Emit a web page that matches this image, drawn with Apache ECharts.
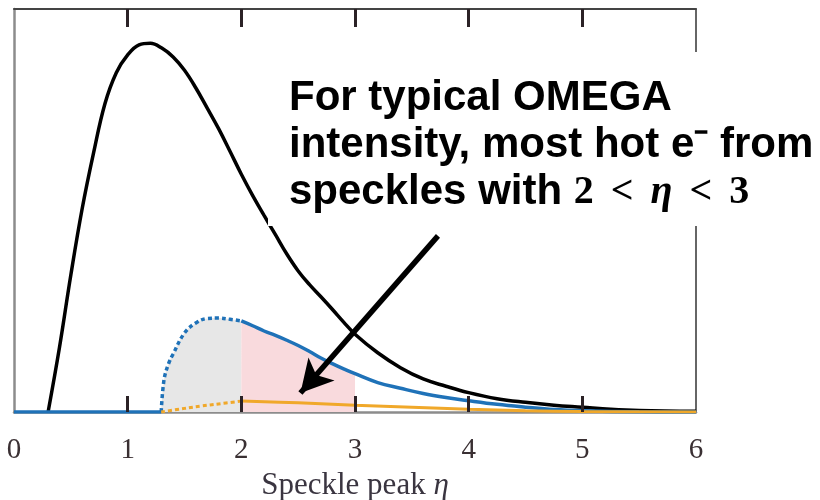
<!DOCTYPE html>
<html>
<head>
<meta charset="utf-8">
<script src="https://cdn.jsdelivr.net/npm/echarts@6/dist/echarts.min.js"></script>
<style>html,body{margin:0;padding:0;background:#fff;}#c{width:820px;height:500px;}</style>
</head>
<body>
<div id="c"></div>
<script>
// x ticks
const xTicks = [0, 1, 2, 3, 4, 5, 6];
const innerTicks = [1, 2, 3, 4, 5];
// black curve (speckle distribution)
const blackEta = [0.30,0.40,0.50,0.60,0.70,0.80,0.90,1.00,1.10,1.20,1.30,1.40,1.50,1.60,1.70,1.80,1.90,2.00,2.10,2.20,2.30,2.40,2.50,2.60,2.70,2.80,2.90,3.00,3.20,3.40,3.60,3.80,4.00,4.25,4.50,4.75,5.00,5.25,5.50,6.00];
const blackVal = [0,16,34,50.5,64.3,76.5,84.2,88.6,91.1,91.5,90.3,88.1,84.8,80.4,75.4,70.3,64.7,59.0,53.7,48.8,44.0,39.2,35.0,31.6,28.6,25.5,22.3,19.3,14.7,11.0,8.2,6.4,4.8,3.3,2.4,1.7,1.2,0.7,0.4,0.2];
// blue curve: baseline, dotted rise, solid fall
const blueBaseEta = [0, 1.295];
const blueBaseVal = [0, 0];
const blueDotEta = [1.295,1.32,1.36,1.40,1.50,1.60,1.70,1.80,1.90,2.00];
const blueDotVal = [0,8,12,14.4,19.6,22.1,23.2,23.3,23.0,22.6];
const blueSolidEta = [2.0,2.1,2.2,2.3,2.4,2.5,2.6,2.7,2.8,2.9,3.0,3.2,3.4,3.6,3.8,4.0,4.25,4.5,4.75,5.0,5.5,6.0];
const blueSolidVal = [22.6,21.4,20.1,19.0,17.8,16.5,15.0,13.4,12.0,10.7,9.5,7.3,5.9,4.6,3.6,2.8,1.9,1.2,0.6,0.3,0.05,0];
// orange curve
const orangeDotEta = [1.295,1.5,1.65,1.8,2.0];
const orangeDotVal = [0,0.9,1.5,2.0,2.7];
const orangeSolidEta = [2.0,2.5,3.0,3.5,4.0,4.5,5.0,6.0];
const orangeSolidVal = [2.7,2.3,1.7,1.2,0.7,0.3,0.1,0];
// arrow annotation (data units)
const arrowFrom = [3.73, 43.7];
const arrowTo = [2.52, 4.7];

const zip = (a, b) => a.map((v, i) => [v, b[i]]);
const black = zip(blackEta, blackVal);
const blueBase = zip(blueBaseEta, blueBaseVal);
const blueDot = zip(blueDotEta, blueDotVal);
const blueSolid = zip(blueSolidEta, blueSolidVal);
const pinkBand = blueSolid.filter(p => p[0] <= 3.0);
const orangeDot = zip(orangeDotEta, orangeDotVal);
const orangeSolid = zip(orangeSolidEta, orangeSolidVal);

const BLUE = '#1f72b8', ORANGE = '#f0a82a';
const line = (data, color, width, type, z, extra) => Object.assign({
  type: 'line', data, smooth: 0.4, showSymbol: false, symbol: 'none',
  lineStyle: { color, width, type: type || 'solid', cap: 'butt' }, z: z || 3, silent: true
}, extra || {});

const chart = echarts.init(document.getElementById('c'));
chart.setOption({
  animation: false,
  backgroundColor: '#fff',
  grid: { left: 14, right: 124, top: 9, bottom: 88, containLabel: false, outerBoundsMode: 'none' },
  xAxis: [
    { type: 'value', position: 'bottom', min: 0, max: 6, interval: 1,
      axisLine: { show: true, onZero: false, lineStyle: { color: '#8c8c8c', width: 2.5 } },
      axisTick: { show: false }, splitLine: { show: false },
      axisLabel: { margin: 24, fontFamily: 'Liberation Serif', fontSize: 29, color: '#3a3033' },
      name: '{n|Speckle peak }{i|η}', nameLocation: 'middle', nameGap: 57,
      nameTextStyle: { rich: {
        n: { fontFamily: 'Liberation Serif', fontSize: 31, color: '#3a3540' },
        i: { fontFamily: 'Liberation Serif', fontStyle: 'italic', fontSize: 31, color: '#3a3540' } } } },
    { type: 'value', position: 'top', min: 0, max: 6, interval: 1, z: 6,
      axisLine: { show: true, onZero: false, lineStyle: { color: '#444', width: 2 } },
      axisTick: { show: true, inside: true, length: 18, customValues: innerTicks, lineStyle: { color: '#2b2226', width: 3 } },
      axisLabel: { show: false }, splitLine: { show: false } },
    { type: 'value', position: 'bottom', offset: 0, min: 0, max: 6, interval: 1, z: 6,
      axisLine: { show: false, onZero: false },
      axisTick: { show: true, inside: true, length: 16, customValues: innerTicks, lineStyle: { color: '#2b2226', width: 3 } },
      axisLabel: { show: false }, splitLine: { show: false } }
  ],
  yAxis: [
    { type: 'value', position: 'left', min: 0, max: 100,
      axisLine: { show: true, onZero: false, lineStyle: { color: '#8c8c8c', width: 2.5 } },
      axisTick: { show: false }, axisLabel: { show: false }, splitLine: { show: false } },
    { type: 'value', position: 'right', min: 0, max: 100,
      axisLine: { show: true, onZero: false, lineStyle: { color: '#333', width: 1.5 } },
      axisTick: { show: false }, axisLabel: { show: false }, splitLine: { show: false } }
  ],
  series: [
    line(blueDot, BLUE, 0, 'solid', 1, { areaStyle: { color: '#e7e7e7', opacity: 1 }, lineStyle: { width: 0, opacity: 0 } }),
    line(pinkBand, BLUE, 0, 'solid', 1, { areaStyle: { color: '#f9dadd', opacity: 1 }, lineStyle: { width: 0, opacity: 0 } }),
    line(black, '#000', 3.5, 'solid', 3, {
      markLine: { silent: true, symbol: ['none', 'arrow'], symbolSize: [26, 32], label: { show: false },
        lineStyle: { color: '#000', width: 5.5, type: 'solid' },
        itemStyle: { color: '#3a1e22' },
        data: [[{ coord: arrowFrom, symbol: 'none' }, { coord: arrowTo, symbol: 'arrow', itemStyle: { color: '#3a1e22' } }]] } }),
    line(blueBase, BLUE, 3.5, 'solid', 4),
    line(blueDot, BLUE, 3.5, [4, 3], 4),
    line(blueSolid, BLUE, 3.5, 'solid', 4),
    line(orangeDot, ORANGE, 3, [4, 3], 4),
    line(orangeSolid, ORANGE, 3, 'solid', 4)
  ],
  graphic: [
    { type: 'rect', shape: { x: 268, y: 52, width: 552, height: 174 }, style: { fill: '#fff' }, z: 100 },
    { type: 'text', x: 289, y: 75, z: 101, style: {
        text: '{a|For typical OMEGA}\n{a|intensity, most hot e⁻ from}\n{a|speckles with }{m|2}{o|<}{i|η}{o|<}{m|3}',
        verticalAlign: 'top', align: 'left',
        rich: {
          a: { fontFamily: 'Liberation Sans', fontWeight: 'bold', fontSize: 42, lineHeight: 47, fill: '#000' },
          m: { fontFamily: 'Liberation Serif', fontWeight: 'bold', fontSize: 40, lineHeight: 47, fill: '#000' },
          o: { fontFamily: 'Liberation Serif', fontWeight: 'bold', fontSize: 40, lineHeight: 47, fill: '#000', padding: [0, 17] },
          i: { fontFamily: 'Liberation Serif', fontWeight: 'bold', fontStyle: 'italic', fontSize: 40, lineHeight: 47, fill: '#000' }
        } } }
  ]
});
</script>
</body>
</html>
